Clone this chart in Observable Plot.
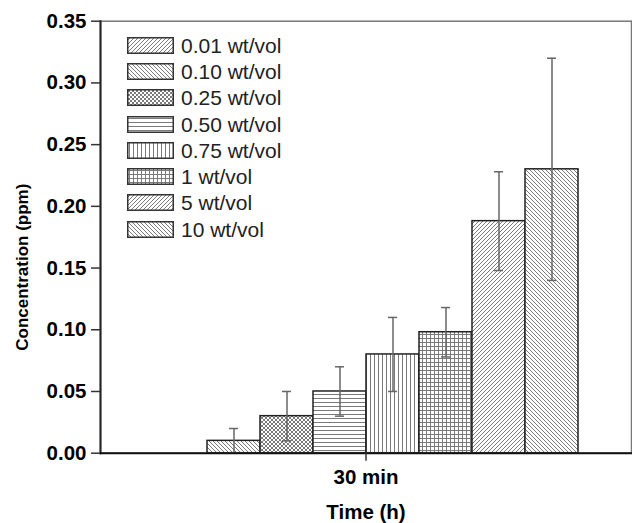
<!DOCTYPE html>
<html><head><meta charset="utf-8">
<script src="https://cdn.jsdelivr.net/npm/d3@7"></script>
<script src="https://cdn.jsdelivr.net/npm/@observablehq/plot@0.6"></script>
<style>
body{margin:0;background:#fff;}
#wrap{position:relative;width:632px;height:523px;font-family:"Liberation Sans",Arial,sans-serif;}
#legend{position:absolute;left:127px;top:32px;}
.row{display:flex;align-items:center;height:26.3px;}
.row svg{display:block;}
.row span{margin-left:7px;font-size:21px;color:#222;line-height:1;}
</style></head><body><div id="wrap"></div>
<script>
const timeCats = ["30 min"];
const series = ["0.01 wt/vol","0.10 wt/vol","0.25 wt/vol","0.50 wt/vol","0.75 wt/vol","1 wt/vol","5 wt/vol","10 wt/vol"];
const values = [0, 0.01, 0.03, 0.05, 0.08, 0.098, 0.188, 0.23];
const errors = [0, 0.01, 0.02, 0.02, 0.03, 0.02, 0.04, 0.09];
const patternIds = ["pFwd","pBack","pCross","pHoriz","pVert","pGrid","pFwd","pBack"];
const yTicks = [0, 0.05, 0.10, 0.15, 0.20, 0.25, 0.30, 0.35];

const data = series.map((s, i) => ({
  time: timeCats[0], series: s, value: values[i], err: errors[i],
  lo: values[i] - errors[i], hi: values[i] + errors[i], fill: `url(#${patternIds[i]})`
}));
const withErr = data.filter(d => d.err > 0);

const font = "Liberation Sans, Arial, sans-serif";
const chart = Plot.plot({
  width: 632, height: 523,
  marginLeft: 100, marginRight: 1, marginTop: 20.7, marginBottom: 70.3,
  style: {fontFamily: font, background: "white", color: "#000"},
  fx: {domain: timeCats, padding: 0, label: null},
  x: {domain: series, paddingInner: 0, paddingOuter: 0.99, axis: null},
  y: {domain: [0, 0.35], label: null},
  color: {type: "identity"},
  marks: [
    Plot.barY(data, {fx: "time", x: "series", y: "value", fill: "fill", stroke: "#222", strokeWidth: 1.5}),
    Plot.ruleX(withErr, {fx: "time", x: "series", y1: "lo", y2: "hi", stroke: "#666", strokeWidth: 1.5}),
    Plot.tickY(withErr, {fx: "time", x: "series", y: "hi", insetLeft: 22, insetRight: 22, stroke: "#666", strokeWidth: 1.5}),
    Plot.tickY(withErr, {fx: "time", x: "series", y: "lo", insetLeft: 22, insetRight: 22, stroke: "#666", strokeWidth: 1.5}),
    Plot.frame({stroke: "#777", strokeWidth: 1.5}),
    Plot.frame({anchor: "left", stroke: "#222", strokeWidth: 2}),
    Plot.frame({anchor: "bottom", stroke: "#111", strokeWidth: 2}),
    Plot.axisY({ticks: yTicks, tickFormat: ".2f", tickSize: 9, tickPadding: 5, fontSize: 20.5, fontWeight: "bold", label: null, stroke: "#333", strokeWidth: 1.5}),
    Plot.axisFx({anchor: "bottom", tickSize: 8, tickPadding: 8, fontSize: 20.5, fontWeight: "bold", label: null, stroke: "#333", strokeWidth: 1.5}),
    Plot.text(["Time (h)"], {frameAnchor: "bottom", lineAnchor: "top", dy: 51, fontSize: 20.5, fontWeight: "bold"}),
    Plot.text(["Concentration (ppm)"], {frameAnchor: "left", textAnchor: "middle", rotate: -90, lineAnchor: "middle", dx: -78, dy: 30, fontSize: 17, fontWeight: "bold"})
  ]
});

const wrap = document.getElementById("wrap");
wrap.appendChild(chart);

// pattern definitions
const defsSvg = d3.create("svg").attr("width", 0).attr("height", 0).style("position", "absolute");
const defs = defsSvg.append("defs");
const hatch = "#7a7a7a";
function pat(id, paths) {
  const p = defs.append("pattern").attr("id", id).attr("patternUnits", "userSpaceOnUse").attr("width", 4).attr("height", 4);
  p.append("rect").attr("width", 4).attr("height", 4).attr("fill", "#fff");
  for (const d of paths) p.append("path").attr("d", d).attr("stroke", hatch).attr("stroke-width", 1).attr("fill", "none");
}
const fwd = "M-1,1 L1,-1 M0,4 L4,0 M3,5 L5,3";
const back = "M-1,3 L1,5 M0,0 L4,4 M3,-1 L5,1";
pat("pFwd", [fwd]);
pat("pBack", [back]);
pat("pCross", [fwd, back]);
pat("pHoriz", ["M0,2.5 H4"]);
pat("pVert", ["M2.5,0 V4"]);
pat("pGrid", ["M0,2.5 H4", "M2.5,0 V4"]);
wrap.insertBefore(defsSvg.node(), wrap.firstChild);

// legend
const legend = document.createElement("div");
legend.id = "legend";
series.forEach((s, i) => {
  const row = document.createElement("div");
  row.className = "row";
  const sw = d3.create("svg").attr("width", 47).attr("height", 17);
  sw.append("rect").attr("x", 0.75).attr("y", 0.75).attr("width", 45.5).attr("height", 15.5)
    .attr("fill", `url(#${patternIds[i]})`).attr("stroke", "#333").attr("stroke-width", 1.5);
  row.appendChild(sw.node());
  const t = document.createElement("span");
  t.textContent = s;
  row.appendChild(t);
  legend.appendChild(row);
});
wrap.appendChild(legend);
</script>
</body></html>
